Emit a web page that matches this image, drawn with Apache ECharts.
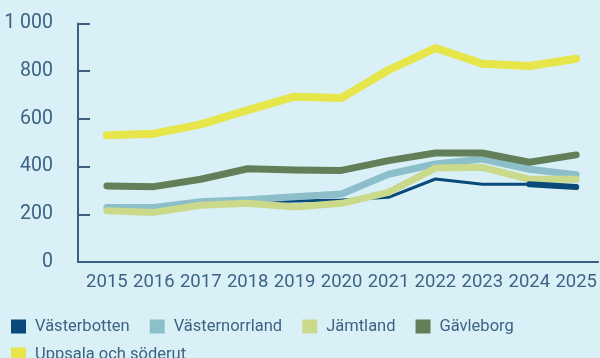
<!DOCTYPE html>
<html>
<head>
<meta charset="utf-8">
<script src="https://cdn.jsdelivr.net/npm/echarts@6/dist/echarts.min.js"></script>
<style>
  html, body { margin: 0; padding: 0; background: #daf0f7; }
  #chart { width: 600px; height: 358px; }
</style>
</head>
<body>
<div id="chart"></div>
<script>
// Years on the x axis
const years = [2015, 2016, 2017, 2018, 2019, 2020, 2021, 2022, 2023, 2024, 2025];

// Series values per region
const vasterbotten   = [225, 224, 244, 250, 256, 260, 271, 348, 326, 326, 314];
const vasternorrland = [229, 229, 253, 261, 274, 285, 368, 411, 432, 389, 366];
const jamtland       = [215, 208, 238, 246, 231, 246, 292, 394, 397, 347, 347];
const gavleborg      = [319, 316, 347, 391, 386, 384, 425, 457, 457, 418, 449];
const uppsala        = [531, 538, 577, 637, 693, 688, 805, 897, 831, 822, 852];

// Y tick labels
const yTicks = [0, 200, 400, 600, 800, 1000];

const textColor = '#3d6384';
const axisColor = '#3a5f80';
const font = 'Roboto';

function pairs(vals) { return years.map((y, i) => [y, vals[i]]); }

function lineSeries(name, vals, color, width) {
  return {
    name, type: 'line', data: pairs(vals),
    showSymbol: false, symbol: 'none',
    lineStyle: { color, width, cap: 'round', join: 'round' },
    itemStyle: { color },
    emphasis: { disabled: true }
  };
}

// Last segment of Västerbotten drawn heavier
const vbLastIdx = years.length - 2;
const vbTail = {
  name: 'Västerbotten', type: 'line',
  data: [[years[vbLastIdx], vasterbotten[vbLastIdx]], [years[vbLastIdx + 1], vasterbotten[vbLastIdx + 1]]],
  showSymbol: false, symbol: 'none',
  lineStyle: { color: '#0a4a7b', width: 6, cap: 'round', join: 'round' },
  itemStyle: { color: '#0a4a7b' },
  emphasis: { disabled: true }
};

const chart = echarts.init(document.getElementById('chart'), null, { renderer: 'canvas' });
chart.setOption({
  backgroundColor: '#daf0f7',
  animation: false,
  grid: { left: 78, right: 0, top: 23.5, bottom: 96, containLabel: false },
  xAxis: {
    type: 'value',
    min: 2014.384,
    max: 2025.467,
    minInterval: 1,
    maxInterval: 1,
    splitLine: { show: false },
    axisTick: { show: false },
    axisLine: { show: true, lineStyle: { color: axisColor, width: 2 } },
    axisLabel: {
      color: textColor, fontFamily: font, fontSize: 18.5, margin: 11,
      showMinLabel: false, showMaxLabel: false,
      formatter: v => (Number.isInteger(v) && years.includes(v)) ? String(v) : ''
    }
  },
  yAxis: {
    type: 'value',
    min: yTicks[0],
    max: yTicks[yTicks.length - 1],
    interval: 200,
    splitLine: { show: false },
    axisLine: { show: true, lineStyle: { color: axisColor, width: 2 } },
    axisTick: { show: true, inside: true, length: 12, lineStyle: { color: axisColor, width: 2 } },
    axisLabel: {
      color: textColor, fontFamily: font, fontSize: 19.5, margin: 25,
      formatter: v => v >= 1000 ? (Math.floor(v / 1000) + ' ' + String(v % 1000).padStart(3, '0')) : String(v)
    }
  },
  legend: [
    {
      data: ['Västerbotten', 'Västernorrland', 'Jämtland', 'Gävleborg'],
      left: 6, top: 313, orient: 'horizontal',
      icon: 'rect', itemWidth: 15, itemHeight: 14, itemGap: 20,
      textStyle: { color: textColor, fontFamily: font, fontSize: 16.5, padding: [0, 0, 0, 4] },
      selectedMode: false
    },
    {
      data: ['Uppsala och söderut'],
      left: 6, top: 341, orient: 'horizontal',
      icon: 'rect', itemWidth: 15, itemHeight: 14, itemGap: 20,
      textStyle: { color: textColor, fontFamily: font, fontSize: 16.5, padding: [0, 0, 0, 4] },
      selectedMode: false
    }
  ],
  series: [
    lineSeries('Västerbotten', vasterbotten, '#0a4a7b', 3),
    lineSeries('Västernorrland', vasternorrland, '#8dbfcb', 7),
    lineSeries('Jämtland', jamtland, '#cbd98b', 7),
    lineSeries('Gävleborg', gavleborg, '#627f59', 7),
    lineSeries('Uppsala och söderut', uppsala, '#e6e64b', 8),
    vbTail
  ]
});
</script>
</body>
</html>
